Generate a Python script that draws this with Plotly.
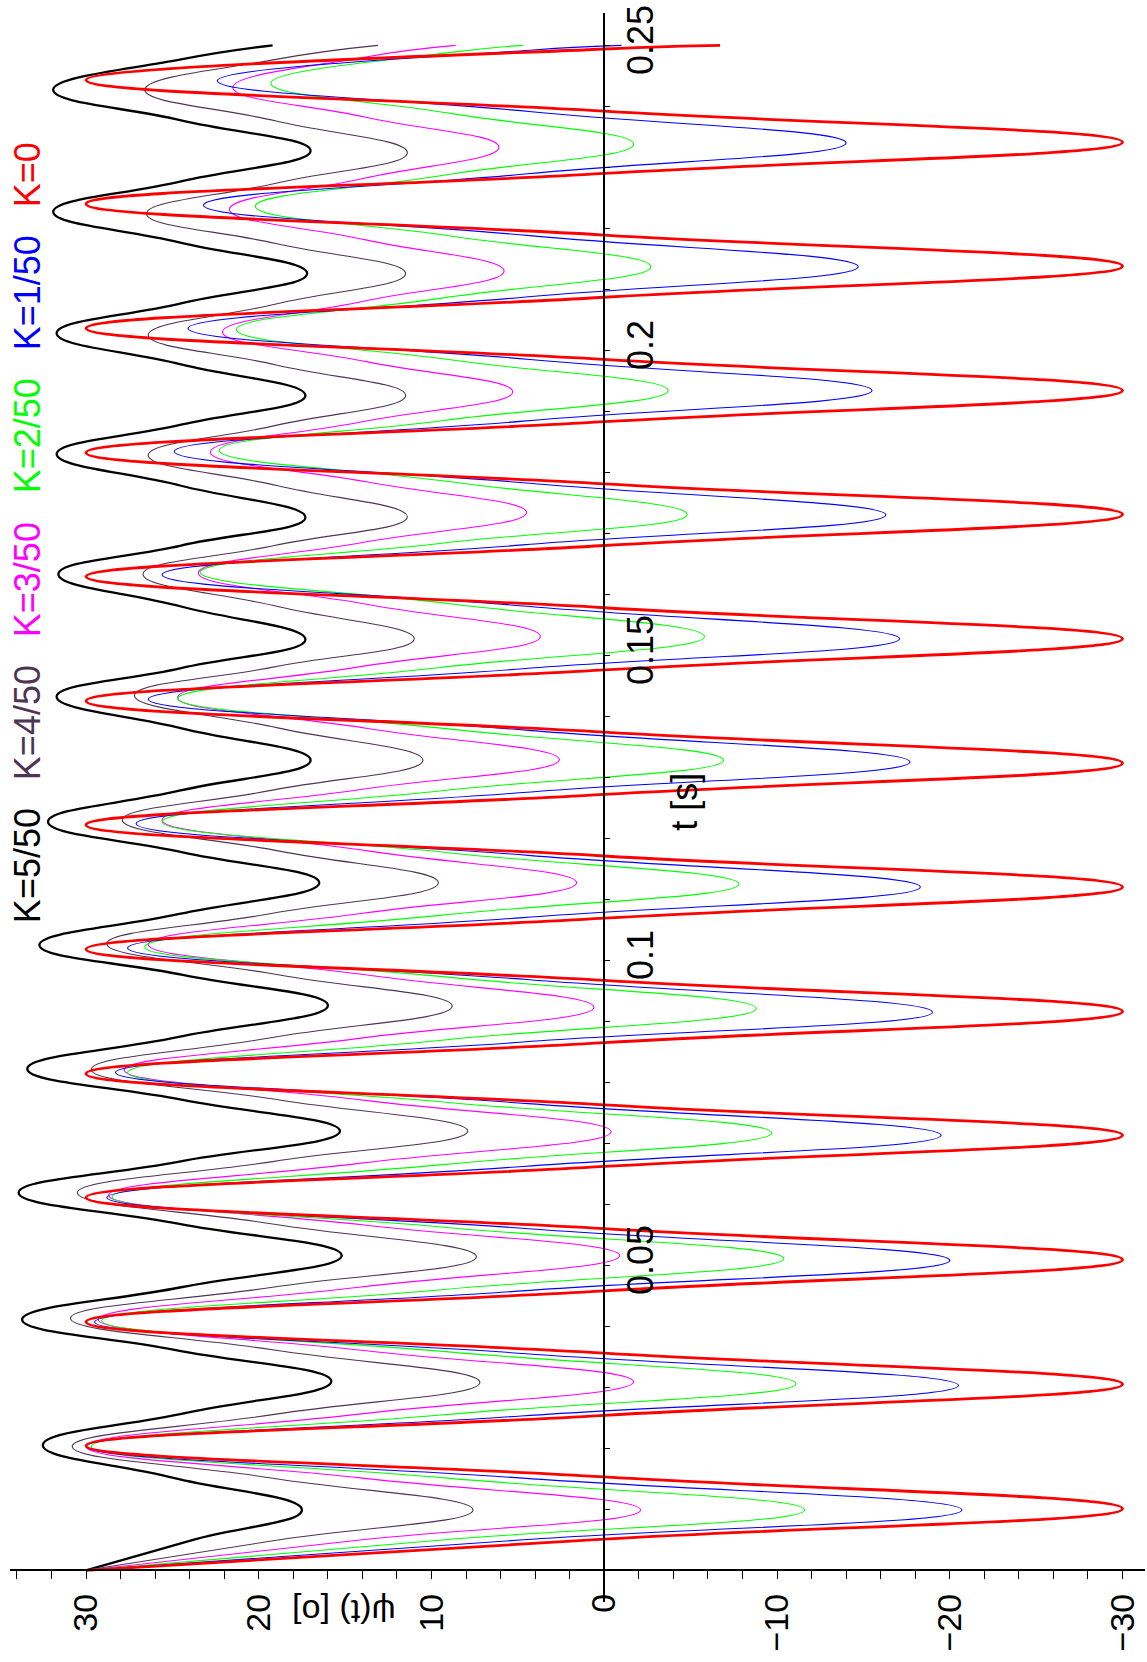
import plotly.graph_objects as go

# ---------------- data ----------------
# K = 0 (red)
t_ext_k0 = [0, 0.0101, 0.0204, 0.0305, 0.0407, 0.0509, 0.0611, 0.0713, 0.0814, 0.0916, 0.1018, 0.1120, 0.1222,
            0.1323, 0.1425, 0.1527, 0.1629, 0.1731, 0.1832, 0.1934, 0.2036, 0.2138, 0.2240, 0.2341, 0.2443, 0.2500]
psi_ext_k0 = [30, -30, 30, -30, 30, -30, 30, -30, 30, -30, 30, -30, 30,
              -30, 30, -30, 30, -30, 30, -30, 30, -30, 30, -30, 30, -6.7]
t_mid_k0 = [0.0051, 0.0153, 0.0254, 0.0356, 0.0458, 0.0560, 0.0662, 0.0763, 0.0865, 0.0967, 0.1069, 0.1171, 0.1272,
            0.1374, 0.1476, 0.1578, 0.1680, 0.1781, 0.1883, 0.1985, 0.2087, 0.2189, 0.2290, 0.2392, 0.2494]
psi_mid_k0 = [0.0, 0.0, 0.0, 0.0, 0.0, 0.0, 0.0, 0.0, 0.0, 0.0, 0.0, 0.0, 0.0,
              0.0, 0.0, 0.0, 0.0, 0.0, 0.0, 0.0, 0.0, 0.0, 0.0, 0.0, 0.0]

# K = 1/50 (blue)
t_ext_k1 = [0, 0.0099, 0.0203, 0.0303, 0.0407, 0.0508, 0.0611, 0.0713, 0.0816, 0.0915, 0.1020, 0.1120, 0.1224,
            0.1325, 0.1428, 0.1527, 0.1632, 0.1730, 0.1834, 0.1934, 0.2036, 0.2137, 0.2238, 0.2340, 0.2442, 0.2500]
psi_ext_k1 = [30, -20.7, 30.0, -20.5, 29.5, -20.0, 28.8, -19.5, 28.3, -19.0, 27.6, -18.3, 27.1,
              -17.7, 26.4, -17.1, 25.6, -16.3, 24.9, -15.5, 24.1, -14.7, 23.2, -14.0, 22.4, -1.0]
t_mid_k1 = [0.0050, 0.0151, 0.0253, 0.0355, 0.0458, 0.0560, 0.0662, 0.0765, 0.0866, 0.0968, 0.1070, 0.1172, 0.1275,
            0.1377, 0.1478, 0.1580, 0.1681, 0.1782, 0.1884, 0.1985, 0.2087, 0.2188, 0.2289, 0.2391, 0.2492]
psi_mid_k1 = [4.7, 4.7, 4.8, 4.5, 4.8, 4.4, 4.7, 4.4, 4.7, 4.3, 4.7, 4.4, 4.7,
              4.4, 4.7, 4.3, 4.7, 4.3, 4.7, 4.3, 4.7, 4.3, 4.6, 4.2, 4.3]

# K = 2/50 (green)
t_ext_k2 = [0, 0.0099, 0.0203, 0.0306, 0.0409, 0.0511, 0.0612, 0.0717, 0.0816, 0.0921, 0.1022, 0.1125, 0.1227,
            0.1328, 0.1429, 0.1531, 0.1636, 0.1731, 0.1836, 0.1934, 0.2034, 0.2137, 0.2236, 0.2338, 0.2438, 0.2500]
psi_ext_k2 = [30, -11.6, 29.7, -11.1, 29.1, -10.4, 28.5, -9.7, 27.6, -8.8, 26.6, -7.8, 25.6,
              -6.9, 24.7, -5.8, 23.4, -4.8, 22.3, -3.7, 21.3, -2.7, 20.2, -1.7, 19.3, 4.7]
t_mid_k2 = [0.0050, 0.0151, 0.0255, 0.0358, 0.0460, 0.0562, 0.0665, 0.0767, 0.0869, 0.0972, 0.1074, 0.1176, 0.1278,
            0.1379, 0.1480, 0.1584, 0.1684, 0.1784, 0.1885, 0.1984, 0.2086, 0.2187, 0.2287, 0.2388, 0.2488]
psi_mid_k2 = [9.2, 9.1, 9.3, 9.0, 9.4, 9.1, 9.4, 9.0, 9.4, 8.9, 9.4, 8.9, 9.4,
              8.9, 9.5, 8.8, 9.3, 8.8, 9.3, 8.8, 9.3, 8.8, 9.3, 8.8, 9.0]

# K = 3/50 (magenta)
t_ext_k3 = [0, 0.0099, 0.0203, 0.0309, 0.0411, 0.0516, 0.0615, 0.0719, 0.0820, 0.0923, 0.1026, 0.1127, 0.1230,
            0.1329, 0.1431, 0.1531, 0.1635, 0.1734, 0.1833, 0.1932, 0.2030, 0.2130, 0.2231, 0.2333, 0.2431, 0.2500]
psi_ext_k3 = [30, -2.1, 30.0, -1.7, 29.3, -0.9, 28.7, -0.4, 27.8, 0.6, 26.4, 1.6, 25.6,
              2.6, 24.7, 3.7, 23.5, 4.5, 22.8, 5.3, 22.1, 5.8, 21.7, 6.1, 21.5, 8.6]
t_mid_k3 = [0.0050, 0.0151, 0.0256, 0.0360, 0.0464, 0.0566, 0.0667, 0.0770, 0.0872, 0.0975, 0.1077, 0.1179, 0.1280,
            0.1380, 0.1481, 0.1583, 0.1685, 0.1784, 0.1883, 0.1981, 0.2080, 0.2181, 0.2282, 0.2382, 0.2481]
psi_mid_k3 = [14.0, 14.0, 14.2, 13.8, 14.2, 13.9, 14.2, 13.7, 14.2, 13.5, 14.0, 13.6, 14.1,
              13.7, 14.2, 13.6, 14.0, 13.7, 14.0, 13.7, 14.0, 13.8, 13.9, 13.8, 13.8]

# K = 4/50 (dark purple)
t_ext_k4 = [0, 0.0099, 0.0203, 0.0308, 0.0413, 0.0514, 0.0619, 0.0720, 0.0821, 0.0925, 0.1027, 0.1127, 0.1230,
            0.1328, 0.1434, 0.1527, 0.1633, 0.1727, 0.1828, 0.1926, 0.2025, 0.2126, 0.2224, 0.2324, 0.2427, 0.2500]
psi_ext_k4 = [30, 7.6, 30.8, 7.2, 30.9, 7.4, 30.5, 7.9, 29.7, 8.8, 28.8, 9.6, 27.9,
              10.5, 27.2, 11.0, 26.7, 11.4, 26.4, 11.5, 26.4, 11.5, 26.5, 11.4, 26.6, 13.1]
t_mid_k4 = [0.0050, 0.0151, 0.0256, 0.0361, 0.0464, 0.0567, 0.0670, 0.0771, 0.0873, 0.0976, 0.1077, 0.1179, 0.1279,
            0.1381, 0.1481, 0.1580, 0.1680, 0.1778, 0.1877, 0.1976, 0.2076, 0.2175, 0.2274, 0.2376, 0.2477]
psi_mid_k4 = [18.8, 19.2, 19.0, 19.1, 19.2, 19.0, 19.2, 18.8, 19.3, 18.8, 19.2, 18.8, 19.2,
              18.9, 19.1, 18.9, 19.1, 18.9, 19.0, 19.0, 19.0, 19.0, 19.0, 19.0, 19.0]

# K = 5/50 (black)
t_ext_k5 = [0, 0.0099, 0.0205, 0.0310, 0.0411, 0.0516, 0.0619, 0.0720, 0.0822, 0.0926, 0.1025, 0.1127, 0.1227,
            0.1328, 0.1432, 0.1526, 0.1633, 0.1726, 0.1830, 0.1926, 0.2028, 0.2126, 0.2227, 0.2327, 0.2427, 0.2500]
psi_ext_k5 = [30, 17.5, 32.5, 15.8, 33.7, 15.2, 33.9, 15.3, 33.4, 16.0, 32.7, 16.5, 32.2,
              17.0, 31.7, 17.3, 31.6, 17.3, 31.7, 17.3, 31.7, 17.2, 31.9, 17.0, 31.9, 19.2]
t_mid_k5 = [0.0050, 0.0152, 0.0258, 0.0361, 0.0464, 0.0568, 0.0670, 0.0771, 0.0874, 0.0976, 0.1076, 0.1177, 0.1278,
            0.1380, 0.1479, 0.1580, 0.1680, 0.1778, 0.1878, 0.1977, 0.2077, 0.2177, 0.2277, 0.2377, 0.2477]
psi_mid_k5 = [23.8, 25.0, 24.2, 24.8, 24.5, 24.6, 24.6, 24.4, 24.7, 24.4, 24.6, 24.4, 24.6,
              24.4, 24.5, 24.5, 24.5, 24.5, 24.5, 24.5, 24.5, 24.6, 24.5, 24.5, 24.5]

series_labels = ["K=5/50", "K=4/50", "K=3/50", "K=2/50", "K=1/50", "K=0"]
psi_tick_vals = [-30, -20, -10, 0, 10, 20, 30]
psi_tick_text = ["\u221230", "\u221220", "\u221210", "0", "10", "20", "30"]
t_tick_vals = [0.05, 0.1, 0.15, 0.2, 0.25]
t_tick_text = ["0.05", "0.1", "0.15", "0.2", "0.25"]

# ---------------- styling / layout ----------------
W, H = 1147, 1662
ML, MR, MT, MB = 10, 1.5, 12.7, 60
PW, PH = W - ML - MR, H - MT - MB
PSI_RANGE = [34.40, -31.30]
T_RANGE = [-0.0052, 0.2553]
FONT = "Liberation Sans, Arial, Helvetica, sans-serif"
FS = 36
FS_PSI = 34


def px2paper(px, py):
    return (px - ML) / PW, (H - MB - py) / PH


def merge(te, pe, tm, pm):
    pts = sorted(zip(te + tm, pe + pm))
    return [p for _, p in pts], [t for t, _ in pts]


styles = [
    ("K=5/50", (t_ext_k5, psi_ext_k5, t_mid_k5, psi_mid_k5), "#000000", 2.3),
    ("K=4/50", (t_ext_k4, psi_ext_k4, t_mid_k4, psi_mid_k4), "#4f3354", 1.1),
    ("K=3/50", (t_ext_k3, psi_ext_k3, t_mid_k3, psi_mid_k3), "#ff00ff", 1.1),
    ("K=2/50", (t_ext_k2, psi_ext_k2, t_mid_k2, psi_mid_k2), "#00ff00", 1.1),
    ("K=1/50", (t_ext_k1, psi_ext_k1, t_mid_k1, psi_mid_k1), "#0000ff", 1.1),
    ("K=0", (t_ext_k0, psi_ext_k0, t_mid_k0, psi_mid_k0), "#ff0000", 2.8),
]

fig = go.Figure()
for name, arrs, col, lw in styles:
    xs, ys = merge(*arrs)
    fig.add_trace(go.Scatter(x=xs, y=ys, mode="lines", name=name, showlegend=False,
                             line=dict(color=col, width=lw, shape="spline", smoothing=1.3),
                             hoverinfo="skip"))

x_axis_pos = (0 - T_RANGE[0]) / (T_RANGE[1] - T_RANGE[0])
y_axis_pos = (PSI_RANGE[0] - 0) / (PSI_RANGE[0] - PSI_RANGE[1])

fig.update_layout(
    width=W, height=H,
    margin=dict(l=ML, r=MR, t=MT, b=MB, pad=0),
    paper_bgcolor="white", plot_bgcolor="white",
    font=dict(family=FONT, size=FS, color="black"),
    xaxis=dict(range=PSI_RANGE, anchor="free", position=x_axis_pos, side="bottom",
               showgrid=False, zeroline=False, showline=True, linecolor="black", linewidth=2,
               ticks="outside", ticklen=8, tickwidth=1, tickcolor="black",
               tickmode="array", tickvals=psi_tick_vals, ticktext=psi_tick_text,
               tickangle=-90, tickfont=dict(family=FONT, size=FS_PSI, color="black"),
               ticklabelstandoff=1,
               minor=dict(tickmode="linear", tick0=0, dtick=2, ticks="outside", ticklen=8,
                          tickwidth=1, tickcolor="black", showgrid=False),
               automargin=False, fixedrange=True),
    yaxis=dict(range=T_RANGE, anchor="free", position=y_axis_pos, side="right",
               showgrid=False, zeroline=False, showline=True, linecolor="black", linewidth=1.5,
               ticks="outside", ticklen=5, tickwidth=1, tickcolor="black",
               tickmode="array", tickvals=t_tick_vals, ticktext=t_tick_text,
               tickangle=-90, tickfont=dict(family=FONT, size=FS, color="black"),
               minor=dict(tickmode="linear", tick0=0, dtick=0.01, ticks="outside", ticklen=5,
                          tickwidth=1, tickcolor="black", showgrid=False),
               automargin=False, fixedrange=True),
)

annots = []
label_colors = ["#000000", "#4f3354", "#ff00ff", "#00ff00", "#0000ff", "#ff0000"]
label_py = [865, 722, 579, 435, 292, 174]
for txt, col, py in zip(series_labels, label_colors, label_py):
    ax, ay = px2paper(27, py)
    annots.append(dict(x=ax, y=ay, xref="paper", yref="paper", text=txt, showarrow=False,
                       textangle=-90, xanchor="center", yanchor="middle",
                       font=dict(family=FONT, size=FS, color=col)))
ax, ay = px2paper(684, 802)
annots.append(dict(x=ax, y=ay, xref="paper", yref="paper", text="t [s]", showarrow=False,
                   textangle=-90, xanchor="center", yanchor="middle",
                   font=dict(family=FONT, size=FS, color="black")))
ax, ay = px2paper(344, 1612)
annots.append(dict(x=ax, y=ay, xref="paper", yref="paper", text="\u03c8(t) [o]", showarrow=False,
                   textangle=180, xanchor="center", yanchor="middle",
                   font=dict(family=FONT, size=FS_PSI, color="black")))
fig.update_layout(annotations=annots)

fig.write_html("out.html", include_plotlyjs=True, config={"displayModeBar": False},
               post_script="document.body.style.margin='0px';")
